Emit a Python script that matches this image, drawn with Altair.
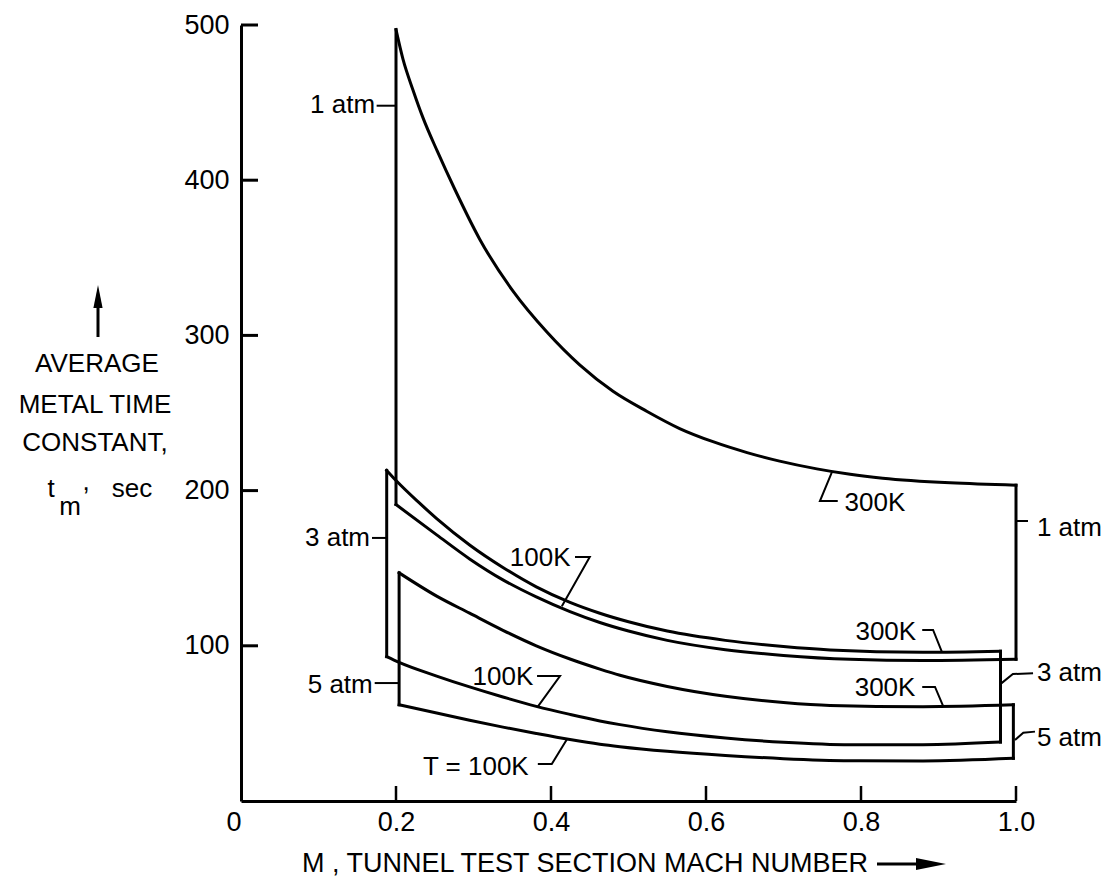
import altair as alt
import pandas as pd

FONT = "Liberation Sans"

# ---------------- data ----------------
x_ticks = [0, 0.2, 0.4, 0.6, 0.8, 1.0]
y_ticks = [100, 200, 300, 400, 500]

# 1 atm, T = 300 K (upper edge of 1 atm band)
p1_300K_x = [0.200, 0.209, 0.222, 0.235, 0.253, 0.276, 0.308, 0.351, 0.395, 0.437, 0.480,
             0.524, 0.566, 0.609, 0.653, 0.695, 0.743, 0.786, 0.828, 0.915, 1.000]
p1_300K_y = [497, 478, 458, 440, 419, 394, 362, 328.5, 302, 281, 264,
             251, 240, 231.5, 224.5, 219, 214, 210.5, 208, 205, 203.5]
# 1 atm, T = 100 K
p1_100K_x = [0.200, 0.2525, 0.295, 0.338, 0.381, 0.4245, 0.463, 0.500, 0.550, 0.625, 0.700, 0.786, 0.880, 1.000]
p1_100K_y = [191, 171.5, 156, 142.5, 131.5, 122, 115, 109.5, 103.5, 97.5, 93.8, 91.3, 90.5, 91.3]
# 3 atm, T = 300 K
p3_300K_x = [0.188, 0.201, 0.228, 0.2525, 0.295, 0.338, 0.381, 0.4245, 0.463, 0.500, 0.550, 0.625, 0.700, 0.760, 0.880, 0.980]
p3_300K_y = [213, 206, 193, 182, 165, 150.5, 138, 128, 121, 115.5, 109.5, 103.5, 99.5, 97.3, 95.8, 96.5]
# 3 atm, T = 100 K
p3_100K_x = [0.188, 0.204, 0.2525, 0.295, 0.338, 0.381, 0.4245, 0.463, 0.489, 0.550, 0.625, 0.700, 0.786, 0.880, 0.980]
p3_100K_y = [93, 89.3, 80.5, 73.5, 67, 61, 55.8, 51.6, 49.2, 44.6, 40.6, 37.8, 36.2, 36.3, 38]
# 5 atm, T = 300 K
p5_300K_x = [0.204, 0.2525, 0.295, 0.338, 0.381, 0.4245, 0.463, 0.489, 0.550, 0.625, 0.700, 0.760, 0.880, 0.9966]
p5_300K_y = [147, 132, 121, 110, 100, 91.5, 85, 81, 73.8, 67.5, 63.5, 61.6, 60.8, 62]
# 5 atm, T = 100 K
p5_100K_x = [0.204, 0.2525, 0.295, 0.338, 0.381, 0.4245, 0.463, 0.489, 0.550, 0.625, 0.700, 0.786, 0.880, 0.9966]
p5_100K_y = [62, 56.7, 52, 47.6, 43.5, 39.6, 36.6, 35, 32, 29.3, 27.3, 26, 25.8, 27.5]

# annotation labels (data coordinates)
center_labels = ["300K", "100K", "100K", "T = 100K", "300K", "300K"]
center_x = [0.818, 0.386, 0.338, 0.303, 0.832, 0.831]
center_y = [192, 156.6, 80, 22, 109, 73]
left_side_labels = ["1 atm", "3 atm", "5 atm"]
left_side_x = [0.173, 0.1665, 0.170]
left_side_y = [448.5, 169.5, 74.7]
right_side_labels = ["1 atm", "3 atm", "5 atm"]
right_side_x = [1.027, 1.027, 1.027]
right_side_y = [176, 82.5, 40.6]

# leader lines (polylines in data coordinates)
leaders = [
    ([0.175, 0.199], [448, 448]),
    ([0.169, 0.188], [169.5, 169.5]),
    ([0.1725, 0.204], [76, 76]),
    ([1.001, 1.0155], [180.4, 180.4]),
    ([0.981, 0.996, 1.022], [75.8, 81.8, 82.3]),
    ([0.9987, 1.0094, 1.0245], [39.3, 44, 44.7]),
    ([0.7626, 0.747, 0.770], [212, 193.3, 193.3]),
    ([0.431, 0.450, 0.414], [157.2, 157.2, 125.5]),
    ([0.382, 0.4116, 0.383], [80.5, 80.5, 60.8]),
    ([0.383, 0.401, 0.4206], [23.8, 23.8, 39.8]),
    ([0.879, 0.893, 0.9045], [110.2, 110.2, 96]),
    ([0.879, 0.8955, 0.906], [73.5, 73.5, 61.2]),
]

# ---------------- tables ----------------
curves = {
    "1atm_300K": (p1_300K_x, p1_300K_y),
    "1atm_100K": (p1_100K_x, p1_100K_y),
    "3atm_300K": (p3_300K_x, p3_300K_y),
    "3atm_100K": (p3_100K_x, p3_100K_y),
    "5atm_300K": (p5_300K_x, p5_300K_y),
    "5atm_100K": (p5_100K_x, p5_100K_y),
}
rows = []
for name, (xs, ys) in curves.items():
    for i, (xv, yv) in enumerate(zip(xs, ys)):
        rows.append({"curve": name, "x": xv, "y": yv, "i": i})
curve_df = pd.DataFrame(rows)

vrows = []
for top, bot in [("1atm_300K", "1atm_100K"), ("3atm_300K", "3atm_100K"), ("5atm_300K", "5atm_100K")]:
    tx, ty = curves[top]
    bx, by = curves[bot]
    vrows.append({"x": tx[0], "y": ty[0], "y2": by[0]})
    vrows.append({"x": tx[-1], "y": ty[-1], "y2": by[-1]})
vert_df = pd.DataFrame(vrows)

lrows = []
for k, (xs, ys) in enumerate(leaders):
    for i, (xv, yv) in enumerate(zip(xs, ys)):
        lrows.append({"lead": k, "x": xv, "y": yv, "i": i})
lead_df = pd.DataFrame(lrows)

center_df = pd.DataFrame({"t": center_labels, "x": center_x, "y": center_y})
lside_df = pd.DataFrame({"t": left_side_labels, "x": left_side_x, "y": left_side_y})
rside_df = pd.DataFrame({"t": right_side_labels, "x": right_side_x, "y": right_side_y})

# ---------------- scales / axes ----------------
W, H = 775, 776
xscale = alt.Scale(domain=[0, 1.0], nice=False, zero=False)
yscale = alt.Scale(domain=[0, 500], nice=False, zero=False)
xaxis = alt.Axis(values=x_ticks, labelExpr="datum.value == 0 ? '0' : format(datum.value, '.1f')",
                 labelAlign={"condition": {"test": "datum.value == 0", "value": "right"}, "value": "center"},
                 ticks=False, grid=False, domainColor="black", domainWidth=3,
                 labelFont=FONT, labelFontSize=27, labelColor="black", labelPadding=8,
                 labelFlush=False, labelOverlap=False, title="")
yaxis = alt.Axis(values=y_ticks, ticks=False, grid=False, domainColor="black", domainWidth=3,
                 labelFont=FONT, labelFontSize=27, labelColor="black", labelPadding=12,
                 labelOverlap=False, title="")

X = alt.X("x:Q", scale=xscale, axis=xaxis)
Y = alt.Y("y:Q", scale=yscale, axis=yaxis)

curve_layer = alt.Chart(curve_df).mark_line(color="black", strokeWidth=3, interpolate="monotone",
                                            strokeCap="square").encode(
    x=X, y=Y, detail="curve:N", order="i:Q")

vert_layer = alt.Chart(vert_df).mark_rule(color="black", strokeWidth=3, strokeCap="square").encode(
    x=X, y=Y, y2="y2:Q")

lead_layer = alt.Chart(lead_df).mark_line(color="black", strokeWidth=2).encode(
    x=X, y=Y, detail="lead:N", order="i:Q")

ytick_layer = alt.Chart(pd.DataFrame({"y": y_ticks})).mark_rule(color="black", strokeWidth=3).encode(
    y=Y, x=alt.value(0), x2=alt.value(17))
xtick_layer = alt.Chart(pd.DataFrame({"x": x_ticks[1:]})).mark_rule(color="black", strokeWidth=2.5).encode(
    x=X, y=alt.value(H), y2=alt.value(H - 15))

txt = dict(font=FONT, fontSize=26, color="black", baseline="middle")
center_layer = alt.Chart(center_df).mark_text(align="center", **txt).encode(x=X, y=Y, text="t:N")
lside_layer = alt.Chart(lside_df).mark_text(align="right", **txt).encode(x=X, y=Y, text="t:N")
rside_layer = alt.Chart(rside_df).mark_text(align="left", **txt).encode(x=X, y=Y, text="t:N")


def ptext(s, px, py, align="center", baseline="middle", size=26):
    return alt.Chart(pd.DataFrame({"t": [s]})).mark_text(
        align=align, baseline=baseline, font=FONT, fontSize=size, color="black").encode(
        text="t:N", x=alt.value(px), y=alt.value(py))


def pmark(px, py, shape, size):
    return alt.Chart(pd.DataFrame({"t": [0]})).mark_point(
        shape=shape, size=size, filled=True, color="black", opacity=1, strokeWidth=0).encode(
        x=alt.value(px), y=alt.value(py))


def prule(px, py, px2, py2, w=3):
    return alt.Chart(pd.DataFrame({"t": [0]})).mark_rule(color="black", strokeWidth=w).encode(
        x=alt.value(px), y=alt.value(py), x2=alt.value(px2), y2=alt.value(py2))


# y-axis title block (left of the axis)
ytitle = [
    prule(-143, 274, -143, 312),
    pmark(-143, 271.5, "M0,-1L0.4,1L-0.4,1Z", 529),
    ptext("AVERAGE", -144, 339),
    ptext("METAL TIME", -146, 380),
    ptext("CONSTANT,", -146, 418),
    ptext("t", -190, 472, baseline="alphabetic"),
    ptext("m", -171, 490, baseline="alphabetic"),
    ptext(",", -155, 465, baseline="alphabetic"),
    ptext("sec", -109, 472, baseline="alphabetic"),
]
# x-axis title
xtitle = [
    ptext("M , TUNNEL TEST SECTION MACH NUMBER", 61, 839, align="left", size=27),
    prule(636, 839, 682, 839),
    pmark(690, 839, "M1,0L-1,-0.4L-1,0.4Z", 900),
]

chart = alt.layer(
    curve_layer, vert_layer, lead_layer, ytick_layer, xtick_layer,
    center_layer, lside_layer, rside_layer, *ytitle, *xtitle
).properties(
    width=W, height=H, autosize="none",
    padding={"left": 241, "top": 25, "right": 101, "bottom": 83},
    background="white",
).configure_view(stroke=None)

chart.save("out.html", embed_options={"renderer": "svg", "actions": False})
